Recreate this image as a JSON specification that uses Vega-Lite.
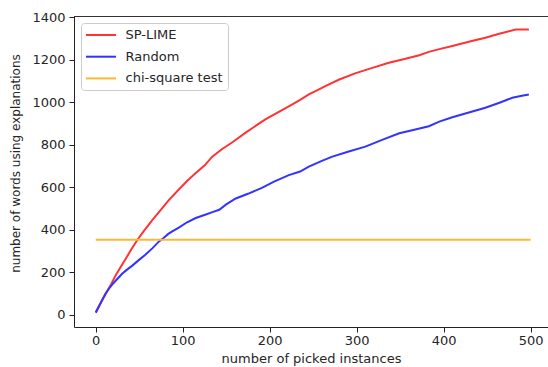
{
  "$schema": "https://vega.github.io/schema/vega-lite/v6.json",
  "width": 474,
  "height": 311,
  "autosize": {"type": "none"},
  "padding": {"left": 74, "top": 16, "right": 0, "bottom": 40},
  "background": "white",
  "config": {
    "view": {"stroke": null},
    "font": "DejaVu Sans",
    "axis": {
      "grid": false,
      "domainColor": "#222222",
      "domainWidth": 1,
      "tickColor": "#222222",
      "tickSize": 5,
      "labelFont": "DejaVu Sans",
      "labelFontSize": 13,
      "labelColor": "#262626",
      "titleFont": "DejaVu Sans",
      "titleFontSize": 13,
      "titleFontWeight": "normal",
      "titleColor": "#262626"
    }
  },
  "data": {
    "values": [
      {"x": 0, "y": 12, "s": "SP-LIME"},
      {"x": 6, "y": 58, "s": "SP-LIME"},
      {"x": 12, "y": 103, "s": "SP-LIME"},
      {"x": 18, "y": 147, "s": "SP-LIME"},
      {"x": 23, "y": 187, "s": "SP-LIME"},
      {"x": 29, "y": 228, "s": "SP-LIME"},
      {"x": 35, "y": 268, "s": "SP-LIME"},
      {"x": 41, "y": 309, "s": "SP-LIME"},
      {"x": 48, "y": 354, "s": "SP-LIME"},
      {"x": 55, "y": 393, "s": "SP-LIME"},
      {"x": 65, "y": 446, "s": "SP-LIME"},
      {"x": 75, "y": 496, "s": "SP-LIME"},
      {"x": 84, "y": 540, "s": "SP-LIME"},
      {"x": 95, "y": 588, "s": "SP-LIME"},
      {"x": 105, "y": 630, "s": "SP-LIME"},
      {"x": 115, "y": 668, "s": "SP-LIME"},
      {"x": 125, "y": 703, "s": "SP-LIME"},
      {"x": 134, "y": 745, "s": "SP-LIME"},
      {"x": 145, "y": 780, "s": "SP-LIME"},
      {"x": 158, "y": 815, "s": "SP-LIME"},
      {"x": 172, "y": 857, "s": "SP-LIME"},
      {"x": 185, "y": 893, "s": "SP-LIME"},
      {"x": 195, "y": 920, "s": "SP-LIME"},
      {"x": 210, "y": 955, "s": "SP-LIME"},
      {"x": 222, "y": 982, "s": "SP-LIME"},
      {"x": 235, "y": 1012, "s": "SP-LIME"},
      {"x": 245, "y": 1038, "s": "SP-LIME"},
      {"x": 255, "y": 1058, "s": "SP-LIME"},
      {"x": 264, "y": 1077, "s": "SP-LIME"},
      {"x": 280, "y": 1108, "s": "SP-LIME"},
      {"x": 299, "y": 1138, "s": "SP-LIME"},
      {"x": 318, "y": 1163, "s": "SP-LIME"},
      {"x": 337, "y": 1187, "s": "SP-LIME"},
      {"x": 355, "y": 1205, "s": "SP-LIME"},
      {"x": 372, "y": 1222, "s": "SP-LIME"},
      {"x": 383, "y": 1238, "s": "SP-LIME"},
      {"x": 395, "y": 1251, "s": "SP-LIME"},
      {"x": 410, "y": 1266, "s": "SP-LIME"},
      {"x": 430, "y": 1287, "s": "SP-LIME"},
      {"x": 448, "y": 1305, "s": "SP-LIME"},
      {"x": 465, "y": 1325, "s": "SP-LIME"},
      {"x": 483, "y": 1343, "s": "SP-LIME"},
      {"x": 490, "y": 1344, "s": "SP-LIME"},
      {"x": 498, "y": 1343, "s": "SP-LIME"},
      {"x": 0, "y": 10, "s": "Random"},
      {"x": 4, "y": 43, "s": "Random"},
      {"x": 8, "y": 75, "s": "Random"},
      {"x": 11.5, "y": 102, "s": "Random"},
      {"x": 15, "y": 122, "s": "Random"},
      {"x": 20, "y": 148, "s": "Random"},
      {"x": 25, "y": 170, "s": "Random"},
      {"x": 30.6, "y": 195, "s": "Random"},
      {"x": 36, "y": 213, "s": "Random"},
      {"x": 42, "y": 232, "s": "Random"},
      {"x": 49.8, "y": 259, "s": "Random"},
      {"x": 57, "y": 283, "s": "Random"},
      {"x": 65, "y": 313, "s": "Random"},
      {"x": 72.8, "y": 346, "s": "Random"},
      {"x": 78, "y": 362, "s": "Random"},
      {"x": 83, "y": 380, "s": "Random"},
      {"x": 88, "y": 393, "s": "Random"},
      {"x": 96, "y": 412, "s": "Random"},
      {"x": 105, "y": 436, "s": "Random"},
      {"x": 115, "y": 456, "s": "Random"},
      {"x": 125, "y": 470, "s": "Random"},
      {"x": 135, "y": 485, "s": "Random"},
      {"x": 142, "y": 495, "s": "Random"},
      {"x": 150, "y": 520, "s": "Random"},
      {"x": 161, "y": 548, "s": "Random"},
      {"x": 175, "y": 570, "s": "Random"},
      {"x": 191, "y": 598, "s": "Random"},
      {"x": 205, "y": 627, "s": "Random"},
      {"x": 222, "y": 658, "s": "Random"},
      {"x": 235, "y": 675, "s": "Random"},
      {"x": 245, "y": 698, "s": "Random"},
      {"x": 260, "y": 725, "s": "Random"},
      {"x": 272, "y": 745, "s": "Random"},
      {"x": 290, "y": 768, "s": "Random"},
      {"x": 310, "y": 792, "s": "Random"},
      {"x": 330, "y": 825, "s": "Random"},
      {"x": 349, "y": 855, "s": "Random"},
      {"x": 365, "y": 870, "s": "Random"},
      {"x": 383, "y": 888, "s": "Random"},
      {"x": 395, "y": 910, "s": "Random"},
      {"x": 410, "y": 930, "s": "Random"},
      {"x": 421, "y": 943, "s": "Random"},
      {"x": 435, "y": 960, "s": "Random"},
      {"x": 448, "y": 975, "s": "Random"},
      {"x": 465, "y": 1000, "s": "Random"},
      {"x": 479, "y": 1022, "s": "Random"},
      {"x": 490, "y": 1032, "s": "Random"},
      {"x": 498, "y": 1037, "s": "Random"},
      {"x": 0, "y": 354, "s": "chi-square test"},
      {"x": 500, "y": 354, "s": "chi-square test"}
    ]
  },
  "layer": [
    {
      "mark": {"type": "line", "strokeWidth": 2, "clip": true},
      "encoding": {
        "x": {
          "field": "x", "type": "quantitative",
          "scale": {"domain": [-25, 520], "nice": false, "zero": false},
          "axis": {"values": [0, 100, 200, 300, 400, 500], "format": "d", "labelPadding": 2, "title": "number of picked instances", "titlePadding": 5}
        },
        "y": {
          "field": "y", "type": "quantitative",
          "scale": {"domain": [-57, 1407], "nice": false, "zero": false},
          "axis": {"values": [0, 200, 400, 600, 800, 1000, 1200, 1400], "format": "d", "labelPadding": 4, "title": "number of words using explanations", "titleFontSize": 12, "titlePadding": 9, "titleY": 147}
        },
        "color": {
          "field": "s", "type": "nominal",
          "scale": {"domain": ["SP-LIME", "Random", "chi-square test"], "range": ["#ff3333", "#3333ff", "#ffb733"]},
          "legend": {
            "title": null,
            "orient": "none",
            "legendX": 7,
            "legendY": 7,
            "symbolType": "M-2.31,0H2.31",
            "symbolSize": 169,
            "symbolStrokeWidth": 2,
            "symbolOffset": 8,
            "labelFontSize": 13,
            "labelFont": "DejaVu Sans",
            "labelColor": "#262626",
            "labelOffset": 17,
            "rowPadding": 6.7,
            "padding": 4.5,
            "fillColor": "white",
            "strokeColor": "#cccccc",
            "cornerRadius": 3
          }
        }
      }
    },
    {
      "mark": {"type": "rule", "color": "#333333", "strokeWidth": 1},
      "encoding": {
        "y": {"datum": 1404.6}
      }
    }
  ]
}
